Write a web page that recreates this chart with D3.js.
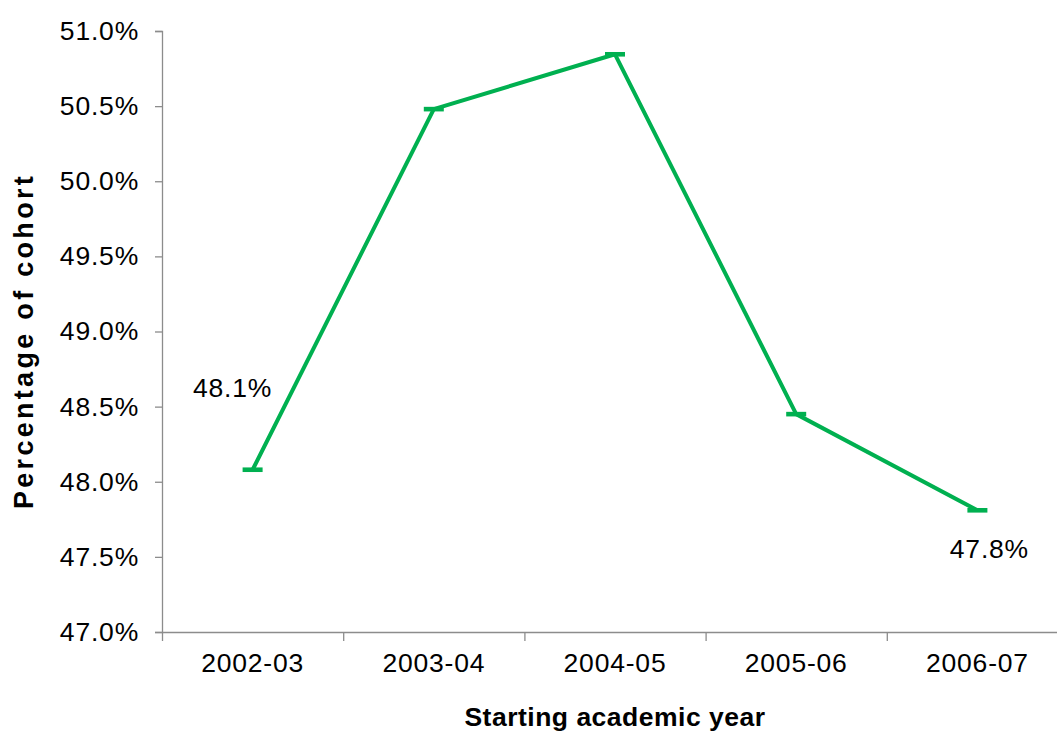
<!DOCTYPE html>
<html>
<head>
<meta charset="utf-8">
<script src="https://cdn.jsdelivr.net/npm/d3@7"></script>
<style>
  body { margin: 0; background: #fff; }
  svg { display: block; font-family: "Liberation Sans", Arial, sans-serif; }
</style>
</head>
<body>
<script>
//Chart data
var years = ["2002-03", "2003-04", "2004-05", "2005-06", "2006-07"];
var shares = [48.08, 50.48, 50.845, 48.45, 47.81];
var yTicks = [47.0, 47.5, 48.0, 48.5, 49.0, 49.5, 50.0, 50.5, 51.0];
//only the first and last points carry a label
var labelled = ["2002-03", "2006-07"];

var width = 1057, height = 731;
//plot area edges ("top" is taken by window.top, so prefix them)
var plotLeft = 162, plotRight = 1068, plotTop = 31, plotBottom = 632;

var svg = d3.select("body").append("svg")
    .attr("width", width)
    .attr("height", height);

//one band per academic year, ticks sit on band edges
var x = d3.scaleBand()
    .domain(years)
    .range([plotLeft, plotRight])
    .padding(0);

var xEdge = d3.scaleLinear()
    .domain([0, years.length])
    .range([plotLeft, plotRight]);

var y = d3.scaleLinear()
    .domain([47, 51])
    .range([plotBottom, plotTop]);

var axisColour = "#8c8c8c";

//y axis
var yAxis = svg.append("g")
    .attr("transform", "translate(" + plotLeft + ",0)")
    .call(d3.axisLeft(y)
      .tickValues(yTicks)
      .tickSize(7)
      .tickPadding(16)
      .tickFormat(function(d) { return d.toFixed(1) + "%"; }));

//x axis: edge ticks first, then the category labels
var xAxis = svg.append("g")
    .attr("transform", "translate(0," + plotBottom + ")")
    .call(d3.axisBottom(xEdge)
      .tickValues(d3.range(years.length + 1))
      .tickSize(9)
      .tickSizeOuter(0)
      .tickFormat(""));

var xLabels = svg.append("g")
    .attr("transform", "translate(0," + plotBottom + ")")
    .call(d3.axisBottom(x).tickSize(0).tickPadding(21));
xLabels.select(".domain").remove();

[yAxis, xAxis].forEach(function(g) {
  g.selectAll("path, line")
    .attr("stroke", axisColour)
    .attr("stroke-width", 1.3);
});

svg.selectAll(".tick text")
    .attr("fill", "#000")
    .style("font-size", "26.5px")
    .style("letter-spacing", "0.8px");

//the line
var line = d3.line()
    .x(function(d, i) { return x(years[i]) + x.bandwidth() / 2; })
    .y(function(d) { return y(d); });

svg.append("path")
    .datum(shares)
    .attr("d", line)
    .attr("fill", "none")
    .attr("stroke", "#00B050")
    .attr("stroke-width", 4)
    .attr("stroke-linejoin", "round");

//dash markers
svg.selectAll(".marker")
    .data(shares)
    .enter().append("rect")
    .attr("class", "marker")
    .attr("x", function(d, i) { return x(years[i]) + x.bandwidth() / 2 - 10; })
    .attr("y", function(d) { return y(d) - 2.3; })
    .attr("width", 20)
    .attr("height", 4.6)
    .attr("fill", "#00B050");

//data labels
var labelOffset = { "2002-03": [-20, -73], "2006-07": [12, 48] };
svg.selectAll(".value")
    .data(shares.map(function(v, i) { return { year: years[i], value: v }; })
      .filter(function(d) { return labelled.indexOf(d.year) > -1; }))
    .enter().append("text")
    .attr("class", "value")
    .attr("x", function(d) { return x(d.year) + x.bandwidth() / 2 + labelOffset[d.year][0]; })
    .attr("y", function(d) { return y(d.value) + labelOffset[d.year][1]; })
    .attr("text-anchor", "middle")
    .style("font-size", "26.5px")
    .style("letter-spacing", "0.8px")
    .text(function(d) { return d.value.toFixed(1) + "%"; });

//axis titles
svg.append("text")
    .attr("transform", "translate(33,341) rotate(-90)")
    .attr("text-anchor", "middle")
    .style("font-size", "27px")
    .style("font-weight", "bold")
    .style("letter-spacing", "3.3px")
    .text("Percentage of cohort");

svg.append("text")
    .attr("x", 615)
    .attr("y", 726)
    .attr("text-anchor", "middle")
    .style("font-size", "26.5px")
    .style("font-weight", "bold")
    .style("letter-spacing", "0.5px")
    .text("Starting academic year");
</script>
</body>
</html>
